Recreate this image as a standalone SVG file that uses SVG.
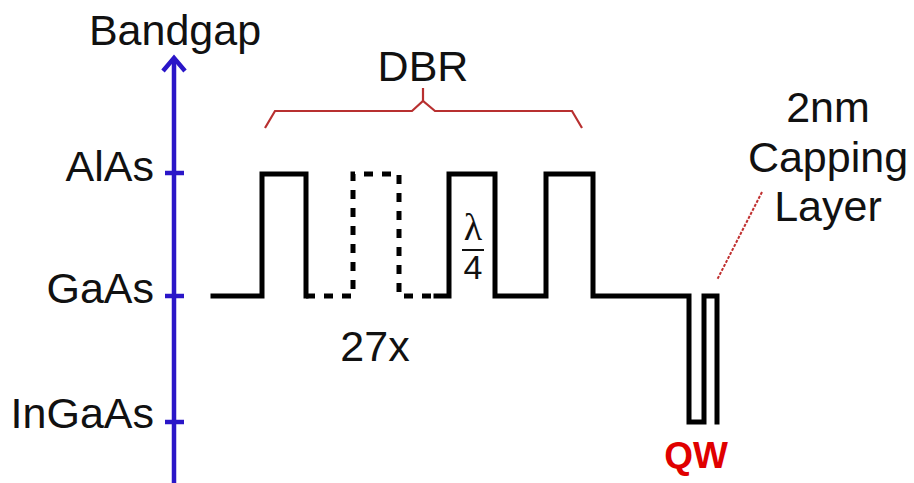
<svg xmlns="http://www.w3.org/2000/svg" width="914" height="483" viewBox="0 0 914 483">
<style>
text{font-family:"Liberation Sans",Arial,sans-serif;fill:#111;}
.lbl{font-size:43px;}
.axis{stroke:#2a16c8;stroke-width:4.5;fill:none;}
.wave{stroke:#000;stroke-width:5;fill:none;stroke-linejoin:miter;stroke-linecap:square;}
.dash{stroke:#000;stroke-width:5;fill:none;stroke-dasharray:9 9;}
.red{stroke:#b83030;stroke-width:2.2;fill:none;}
</style>
<rect width="914" height="483" fill="#fff"/>
<g id="axis">
<line class="axis" x1="174" y1="58" x2="174" y2="483"/>
<polyline class="axis" points="163,71 174,58 185,71"/>
<line class="axis" x1="165" y1="173" x2="184" y2="173"/>
<line class="axis" x1="165" y1="296" x2="184" y2="296"/>
<line class="axis" x1="165" y1="422" x2="184" y2="422"/>
<text class="lbl" x="175" y="45" text-anchor="middle">Bandgap</text>
<text class="lbl" x="154" y="181" text-anchor="end">AlAs</text>
<text class="lbl" x="154" y="303" text-anchor="end">GaAs</text>
<text class="lbl" x="154" y="428" text-anchor="end">InGaAs</text>
</g>
<g id="dbr">
<polyline class="red" points="265,128 275,111 412,111 423,101 435,111 572,111 582,128"/>
<line class="red" x1="423" y1="101" x2="423" y2="88"/>
<text class="lbl" x="423" y="81" text-anchor="middle">DBR</text>
</g>
<g id="wave">
<polyline class="wave" points="213,296 262,296 262,174 306,174 306,296"/>
<polyline class="dash" points="306,296 353,296 353,174 399,174 399,296 440,296"/>
<polyline class="wave" points="436,296 449,296 449,174 495,174 495,296 546,296 546,174 593,174 593,296 689,296 689,422 704,422 704,296 717,296 717,422"/>
</g>
<g id="lambda">
<text x="473" y="240" text-anchor="middle" style="font-family:'Liberation Serif','Times New Roman',serif;font-size:38px;">λ</text>
<line x1="462" y1="250" x2="484" y2="250" stroke="#111" stroke-width="2"/>
<text x="473" y="279" text-anchor="middle" style="font-size:34px;">4</text>
</g>
<g id="count">
<text class="lbl" x="375" y="361" text-anchor="middle">27x</text>
</g>
<g id="capping">
<line x1="762" y1="192" x2="717" y2="280" stroke="#c03030" stroke-width="2" stroke-dasharray="3 1.5"/>
<text class="lbl" x="828" y="122" text-anchor="middle">2nm</text>
<text class="lbl" x="828" y="172" text-anchor="middle">Capping</text>
<text class="lbl" x="828" y="221" text-anchor="middle">Layer</text>
</g>
<g id="qw">
<text x="696" y="468" text-anchor="middle" style="font-size:37px;font-weight:bold;fill:#e00000;">QW</text>
</g>
</svg>
